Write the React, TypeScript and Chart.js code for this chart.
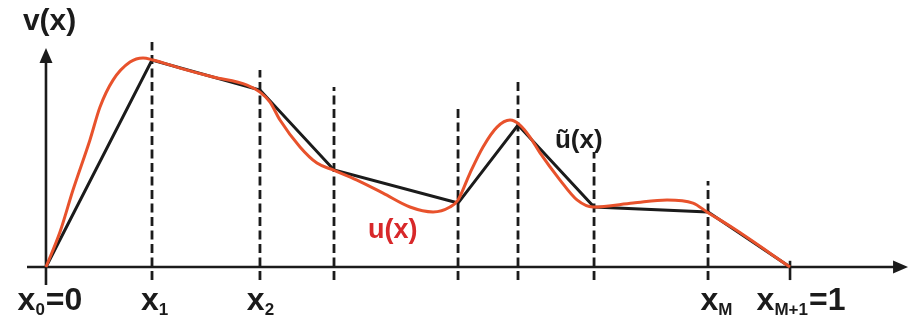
import React, { useEffect, useRef } from "react";
import { Chart, registerables } from "chart.js";

Chart.register(...registerables);

// Node positions (x_0 = 0 ... x_{M+1} = 1)
const nodeX = [0, 0.1425, 0.2876, 0.3871, 0.5538, 0.6344, 0.7366, 0.8898, 1.0];
// Piecewise-linear approximation ũ(x) values at the nodes
const approxY = [0, 1.0, 0.855, 0.469, 0.309, 0.686, 0.29, 0.266, 0];
// Top of each dashed node line (null = no dashed line)
const dashTop = [null, 1.087, 0.952, 0.87, 0.773, 0.913, 0.556, 0.415, null];
const dashBottom = -0.063;

// Smooth function u(x)
const uX = [0, 0.0188, 0.0363, 0.0591, 0.0726, 0.0901, 0.1129, 0.1304, 0.1438, 0.1801, 0.2245, 0.2702, 0.2876, 0.3011, 0.3145, 0.3414, 0.3642, 0.3858, 0.418, 0.453, 0.4892, 0.5202, 0.543, 0.5538, 0.5699, 0.5874, 0.6062, 0.6237, 0.6371, 0.6505, 0.664, 0.6909, 0.7137, 0.7352, 0.789, 0.8347, 0.8696, 0.8884, 0.9234, 1.0];
const uY = [0, 0.169, 0.372, 0.614, 0.773, 0.903, 0.99, 1.01, 1.0, 0.961, 0.918, 0.879, 0.845, 0.797, 0.71, 0.58, 0.502, 0.469, 0.42, 0.357, 0.29, 0.266, 0.29, 0.324, 0.454, 0.58, 0.676, 0.71, 0.686, 0.628, 0.551, 0.42, 0.324, 0.29, 0.309, 0.324, 0.309, 0.266, 0.188, 0];

// Tick labels under the nodes
const tickNodes = [0, 1, 2, 7, 8];
const tickMain = ["x", "x", "x", "x", "x"];
const tickSub = ["0", "1", "2", "M", "M+1"];
const tickSuffix = ["=0", "", "", "", "=1"];

const X_MIN = -0.0618;
const X_MAX = 1.1599;
const Y_MIN = -0.256;
const Y_MAX = 1.29;

const RED = "#e8522c";
const LABEL_RED = "#d8282a";
const BLACK = "#1b1b1b";

export default function App() {
  const ref = useRef<HTMLCanvasElement | null>(null);

  useEffect(() => {
    const canvas = ref.current;
    if (!canvas) return;

    const dashSets = nodeX
      .map((x, i) => ({ x, top: dashTop[i] }))
      .filter((d) => d.top !== null)
      .map((d) => ({
        type: "line" as const,
        data: [
          { x: d.x, y: dashBottom },
          { x: d.x, y: d.top as number },
        ],
        borderColor: BLACK,
        borderWidth: 2.8,
        borderDash: [9, 4.5],
        pointRadius: 0,
        tension: 0,
        clip: false as any,
        order: 5,
      }));

    const axisSets = [
      {
        type: "line" as const,
        data: [
          { x: -0.0255, y: 0 },
          { x: 1.145, y: 0 },
        ],
        borderColor: BLACK,
        borderWidth: 2.6,
        pointRadius: 0,
        clip: false as any,
        order: 6,
      },
      {
        type: "line" as const,
        data: [
          { x: 0, y: -0.087 },
          { x: 0, y: 1.0 },
        ],
        borderColor: BLACK,
        borderWidth: 2.6,
        pointRadius: 0,
        clip: false as any,
        order: 6,
      },
      {
        type: "line" as const,
        data: [
          { x: 1.0, y: -0.063 },
          { x: 1.0, y: 0.03 },
        ],
        borderColor: BLACK,
        borderWidth: 2.6,
        pointRadius: 0,
        clip: false as any,
        order: 6,
      },
    ];

    const textPlugin = {
      id: "labels",
      afterDatasetsDraw(chart: any) {
        const ctx = chart.ctx as CanvasRenderingContext2D;
        const xs = chart.scales.x;
        const ys = chart.scales.y;
        const px = (v: number) => xs.getPixelForValue(v);
        const py = (v: number) => ys.getPixelForValue(v);
        ctx.save();
        ctx.fillStyle = BLACK;
        // arrowheads
        const x0 = px(0);
        const yTip = py(1.058);
        ctx.beginPath();
        ctx.moveTo(x0, yTip);
        ctx.lineTo(x0 - 6.5, yTip + 15);
        ctx.lineTo(x0 + 6.5, yTip + 15);
        ctx.closePath();
        ctx.fill();
        const y0 = py(0);
        const xTip = px(1.1586);
        ctx.beginPath();
        ctx.moveTo(xTip, y0);
        ctx.lineTo(xTip - 15, y0 - 6.5);
        ctx.lineTo(xTip - 15, y0 + 6.5);
        ctx.closePath();
        ctx.fill();

        const fam = '"Liberation Sans", Arial, sans-serif';
        // tick labels
        const baseY = py(-0.208);
        const offsets = [4, 3, 1, 9, 11];
        tickNodes.forEach((ni, k) => {
          ctx.font = `bold 32px ${fam}`;
          const wMain = ctx.measureText(tickMain[k]).width;
          const wSuf = ctx.measureText(tickSuffix[k]).width;
          ctx.font = `bold 17px ${fam}`;
          const wSub = ctx.measureText(tickSub[k]).width;
          const total = wMain + wSub + 1 + wSuf;
          let cx = px(nodeX[ni]) + offsets[k] - total / 2;
          ctx.textBaseline = "alphabetic";
          ctx.textAlign = "left";
          ctx.font = `bold 32px ${fam}`;
          ctx.fillText(tickMain[k], cx, baseY);
          cx += wMain;
          ctx.font = `bold 17px ${fam}`;
          ctx.fillText(tickSub[k], cx, baseY + 5);
          cx += wSub + 1;
          ctx.font = `bold 32px ${fam}`;
          ctx.fillText(tickSuffix[k], cx, baseY);
        });

        // function labels
        ctx.textAlign = "left";
        ctx.font = `bold 30px ${fam}`;
        ctx.fillText("v(x)", px(-0.031), py(1.145));
        ctx.font = `bold 26px ${fam}`;
        ctx.fillText("ũ(x)", px(0.684), py(0.575));
        ctx.fillStyle = LABEL_RED;
        ctx.font = `bold 27px ${fam}`;
        ctx.fillText("u(x)", px(0.4328), py(0.142));
        ctx.restore();
      },
    };

    const chart = new Chart(canvas, {
      type: "line",
      data: {
        datasets: [
          {
            type: "line",
            data: uX.map((x, i) => ({ x, y: uY[i] })),
            borderColor: RED,
            borderWidth: 3,
            pointRadius: 0,
            cubicInterpolationMode: "monotone",
            clip: false as any,
            order: 1,
          },
          {
            type: "line",
            data: nodeX.map((x, i) => ({ x, y: approxY[i] })),
            borderColor: BLACK,
            borderWidth: 3,
            pointRadius: 0,
            tension: 0,
            clip: false as any,
            order: 2,
          },
          ...dashSets,
          ...axisSets,
        ] as any,
      },
      options: {
        animation: false,
        responsive: false,
        maintainAspectRatio: false,
        devicePixelRatio: 1,
        layout: { padding: 0 },
        plugins: {
          legend: { display: false },
          tooltip: { enabled: false },
        },
        events: [],
        scales: {
          x: { type: "linear", min: X_MIN, max: X_MAX, display: false },
          y: { type: "linear", min: Y_MIN, max: Y_MAX, display: false },
        },
      },
      plugins: [textPlugin],
    });
    return () => chart.destroy();
  }, []);

  return (
    <div style={{ position: "fixed", left: 0, top: 0, width: 909, height: 320, background: "#fff" }}>
      <canvas ref={ref} width={909} height={320} style={{ width: 909, height: 320, display: "block" }} />
    </div>
  );
}
